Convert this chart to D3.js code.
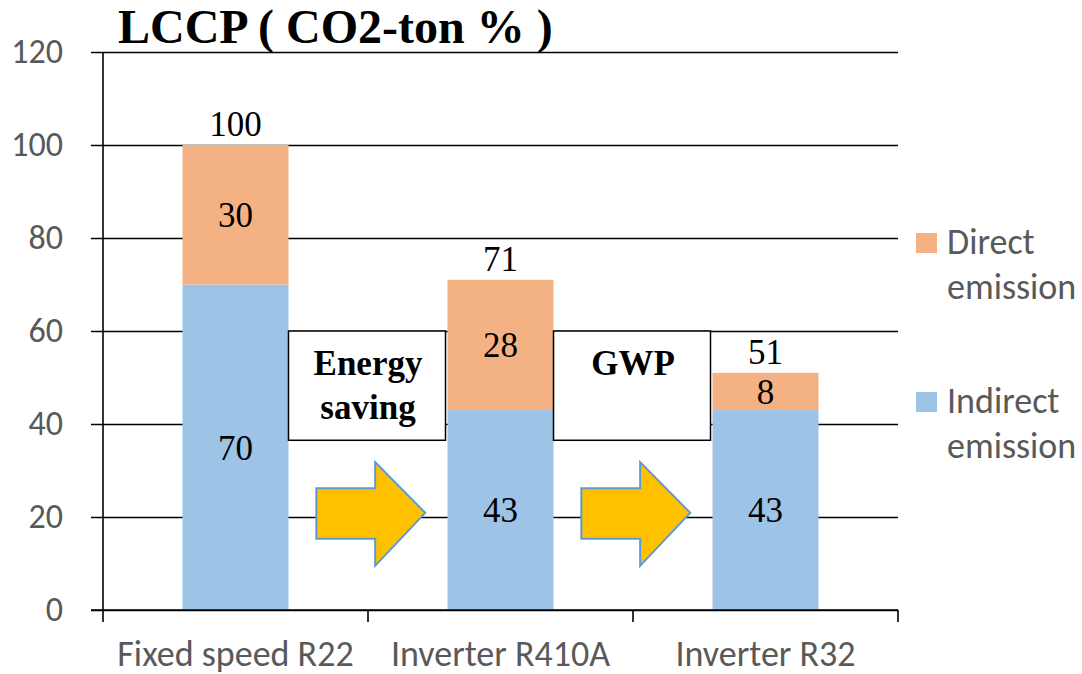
<!DOCTYPE html>
<html>
<head>
<meta charset="utf-8">
<script src="https://cdn.jsdelivr.net/npm/d3@7"></script>
<style>
  body { margin: 0; background: #fff; }
  svg { display: block; }
</style>
</head>
<body>
<svg width="1082" height="674"></svg>
<script>
const categories = ["Fixed speed R22", "Inverter R410A", "Inverter R32"];
const indirect = [70, 43, 43];
const direct = [30, 28, 8];
const yTicks = [0, 20, 40, 60, 80, 100, 120];
const steps = ["Energy\nsaving", "GWP"]; // boxes between bars

const svg = d3.select("svg");
const sansFont = "Carlito, Calibri, 'Open Sans', sans-serif";
const serifFont = "'Liberation Serif', 'Times New Roman', serif";
const gray = "#595959";
const blue = "#9DC3E6";
const orange = "#F4B183";

const plotLeft = 103, plotRight = 898, plotTop = 52, plotBottom = 610;

const x = d3.scaleBand()
  .domain(categories)
  .range([plotLeft, plotRight])
  .paddingInner(0.6)
  .paddingOuter(0.3);

const y = d3.scaleLinear()
  .domain([0, 120])
  .range([plotBottom, plotTop]);

// gridlines + y labels
const yAxis = d3.axisLeft(y)
  .tickValues(yTicks)
  .tickSize(-(plotRight - 91))
  .tickPadding(28);

svg.append("g")
  .attr("transform", `translate(91,0)`)
  .call(yAxis)
  .call(g => g.select(".domain").remove())
  .call(g => g.selectAll(".tick line").attr("stroke", "#000").attr("stroke-width", 1.6))
  .call(g => g.selectAll(".tick text")
    .attr("fill", gray)
    .style("font-family", sansFont)
    .style("font-size", "34px"));

// stacked data
const rows = categories.map((c, i) => ({ cat: c, indirect: indirect[i], direct: direct[i] }));
const stack = d3.stack().keys(["indirect", "direct"])(rows);
const colors = { indirect: blue, direct: orange };

const layer = svg.selectAll("g.layer")
  .data(stack)
  .join("g")
  .attr("class", "layer")
  .attr("fill", d => colors[d.key]);

layer.selectAll("rect")
  .data(d => d)
  .join("rect")
  .attr("x", d => x(d.data.cat))
  .attr("width", x.bandwidth())
  .attr("y", d => y(d[1]))
  .attr("height", d => y(d[0]) - y(d[1]));

// segment labels
layer.selectAll("text")
  .data(d => d.map(s => ({ s, key: d.key })))
  .join("text")
  .attr("x", d => x(d.s.data.cat) + x.bandwidth() / 2)
  .attr("y", d => y((d.s[0] + d.s[1]) / 2))
  .attr("dy", "0.35em")
  .attr("text-anchor", "middle")
  .attr("fill", "#000")
  .style("font-family", serifFont)
  .style("font-size", "35px")
  .text(d => d.s.data[d.key]);

// totals
svg.selectAll("text.total")
  .data(rows)
  .join("text")
  .attr("class", "total")
  .attr("x", d => x(d.cat) + x.bandwidth() / 2)
  .attr("y", d => y(d.indirect + d.direct) - 9)
  .attr("text-anchor", "middle")
  .style("font-family", serifFont)
  .style("font-size", "35px")
  .text(d => d.indirect + d.direct);

// x axis: vertical axis line and category boundary ticks
svg.append("line")
  .attr("x1", plotLeft).attr("x2", plotLeft)
  .attr("y1", y(120)).attr("y2", plotBottom)
  .attr("stroke", "#000").attr("stroke-width", 1.6);

const bounds = d3.range(categories.length + 1).map(i => plotLeft + i * x.step());
svg.selectAll("line.xtick")
  .data(bounds)
  .join("line")
  .attr("class", "xtick")
  .attr("x1", d => d).attr("x2", d => d)
  .attr("y1", plotBottom).attr("y2", plotBottom + 12)
  .attr("stroke", "#000").attr("stroke-width", 1.6);

svg.append("line")
  .attr("x1", 91).attr("x2", plotRight)
  .attr("y1", plotBottom).attr("y2", plotBottom)
  .attr("stroke", "#000").attr("stroke-width", 1.6);

svg.selectAll("text.xlab")
  .data(categories)
  .join("text")
  .attr("class", "xlab")
  .attr("x", d => x(d) + x.bandwidth() / 2)
  .attr("y", 666)
  .attr("text-anchor", "middle")
  .attr("fill", gray)
  .style("font-family", sansFont)
  .style("font-size", "36px")
  .text(d => d);

// boxes + arrows in the gaps between bars
steps.forEach((label, i) => {
  const x0 = x(categories[i]) + x.bandwidth();
  const x1 = x(categories[i + 1]);
  const gap = x1 - x0;

  svg.append("rect")
    .attr("x", x0)
    .attr("y", y(60))
    .attr("width", gap - 2)
    .attr("height", y(36.5) - y(60))
    .attr("fill", "#fff")
    .attr("stroke", "#000")
    .attr("stroke-width", 1.5);

  const t = svg.append("text")
    .attr("text-anchor", "middle")
    .style("font-family", serifFont)
    .style("font-size", "35px")
    .style("font-weight", "bold");
  label.split("\n").forEach((ln, j) => {
    t.append("tspan")
      .attr("x", x0 + gap / 2)
      .attr("y", y(60) + 44 + j * 44)
      .text(ln);
  });

  const ax = d3.scaleLinear().domain([0, 1]).range([x0, x1]);
  const pts = [
    [ax(0.175), y(26.2)],
    [ax(0.545), y(26.2)],
    [ax(0.545), y(31.8)],
    [ax(0.86), y(20.9)],
    [ax(0.545), y(9.5)],
    [ax(0.545), y(15.3)],
    [ax(0.175), y(15.3)]
  ];
  svg.append("path")
    .attr("d", d3.line()(pts) + "Z")
    .attr("fill", "#FFC000")
    .attr("stroke", "#5B9BD5")
    .attr("stroke-width", 2);
});

// title
svg.append("text")
  .attr("x", 118)
  .attr("y", 43)
  .style("font-family", serifFont)
  .style("font-size", "48px")
  .style("font-weight", "bold")
  .text("LCCP ( CO2-ton % )");

// legend
const legendItems = [
  { lines: ["Direct", "emission"], color: orange, y: 233 },
  { lines: ["Indirect", "emission"], color: blue, y: 392 }
];
const lg = svg.selectAll("g.legend")
  .data(legendItems)
  .join("g")
  .attr("class", "legend")
  .attr("transform", d => `translate(916,${d.y})`);

lg.append("rect")
  .attr("width", 21)
  .attr("height", 20)
  .attr("fill", d => d.color);

lg.append("text")
  .attr("fill", gray)
  .style("font-family", sansFont)
  .style("font-size", "36px")
  .selectAll("tspan")
  .data(d => d.lines)
  .join("tspan")
  .attr("x", 31)
  .attr("y", (d, i) => 21 + i * 45)
  .text(d => d);
</script>
</body>
</html>
